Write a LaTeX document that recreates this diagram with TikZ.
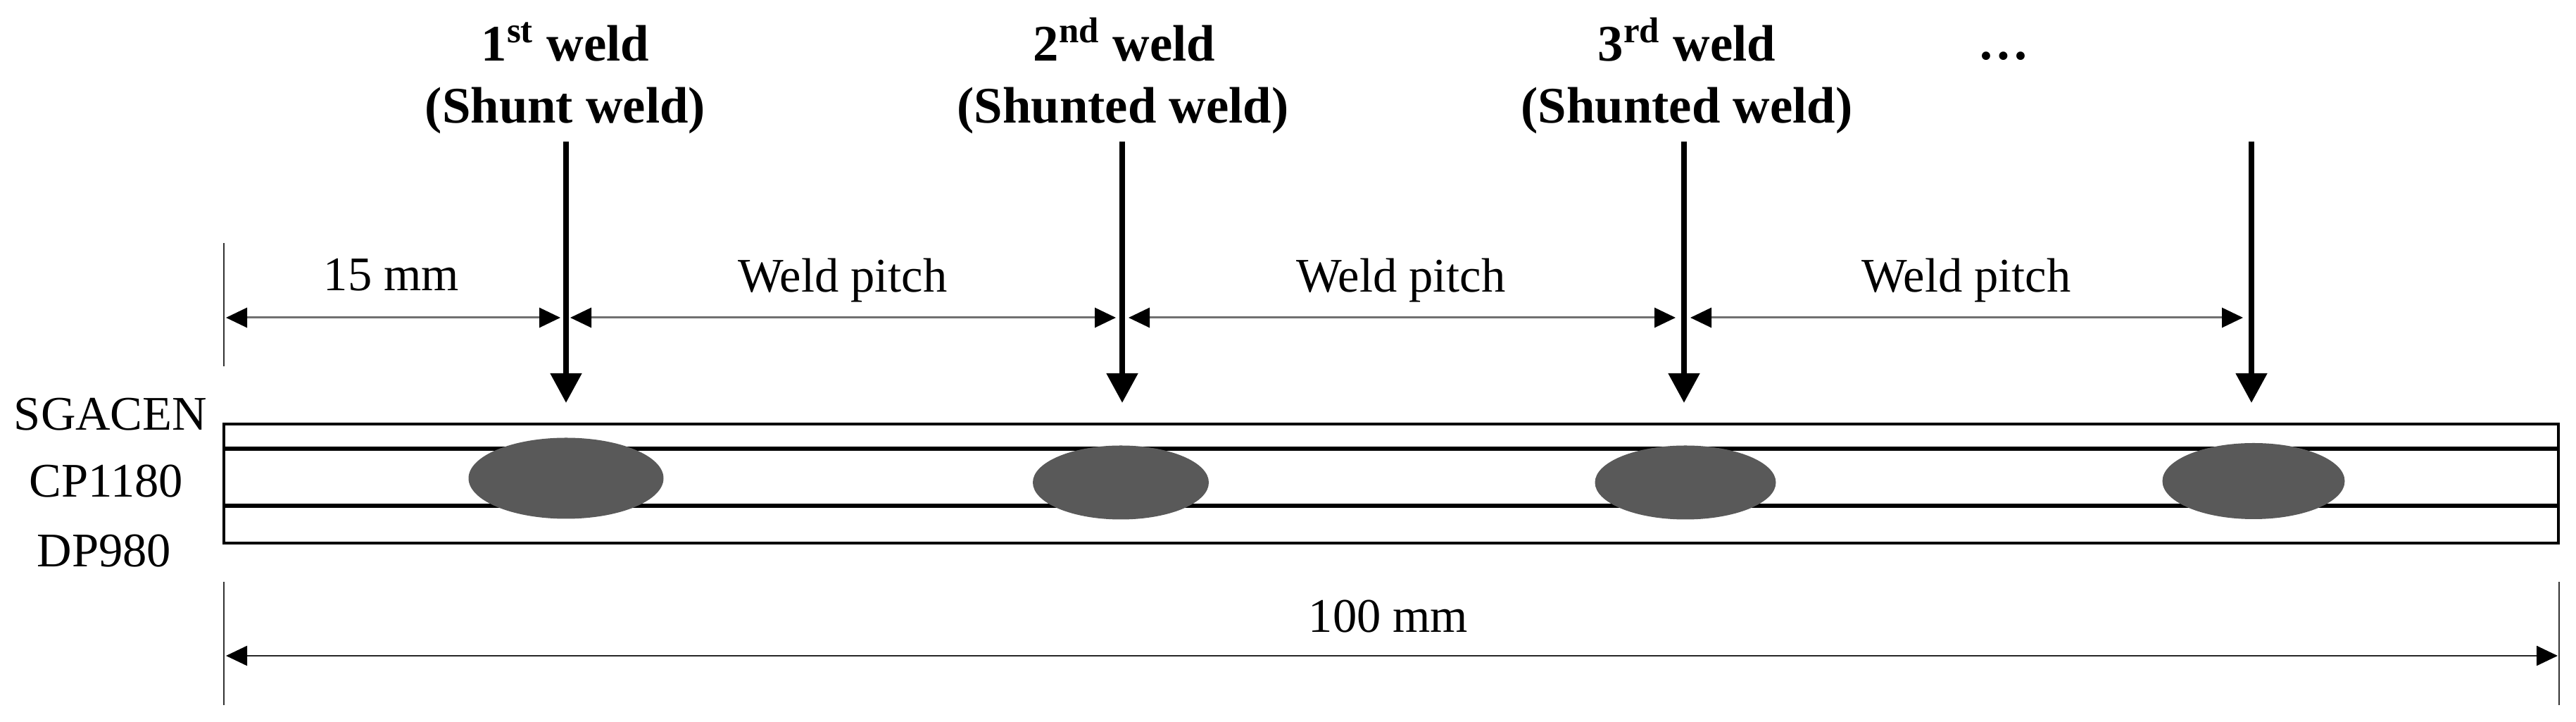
\documentclass[tikz,border=0pt]{standalone}
\usepackage{fontspec}
\setmainfont{Liberation Serif}
\usetikzlibrary{arrows.meta, shapes.geometric}

\begin{document}
\begin{tikzpicture}[
		weld/.style={ellipse, fill=weldgray, inner sep=0pt},
		lbl/.style={anchor=base, inner sep=0pt, font=\fontsize{19.5pt}{22pt}\selectfont},
		head/.style={anchor=base, inner sep=0pt, font=\fontsize{20.7pt}{24pt}\selectfont\bfseries},
		gun/.style={line width=2.3pt, -{Triangle[length=0.42cm, width=0.43cm]}},
		dimn/.style={line width=0.85pt, draw=dimgray, {Triangle[length=0.3cm, width=0.28cm, color=black]}-{Triangle[length=0.3cm, width=0.28cm, color=black]}},
		tick/.style={line width=0.7pt, draw=black!80}
	]
  \definecolor{weldgray}{HTML}{595959}
  \definecolor{dimgray}{HTML}{707070}
  \useasboundingbox (0cm, 0cm) rectangle (36.59cm, 10.25cm);

  % sheets
  \coordinate (sheet_sw) at (3.18cm, 2.54cm);
  \coordinate (sheet_ne) at (36.34cm, 4.23cm);
  \coordinate (upper_l) at (3.18cm, 3.88cm);
  \coordinate (upper_r) at (36.34cm, 3.88cm);
  \coordinate (lower_l) at (3.18cm, 3.07cm);
  \coordinate (lower_r) at (36.34cm, 3.07cm);
  \draw [line width=1.25pt] (sheet_sw) rectangle (sheet_ne);
  \draw [line width=1.7pt] (upper_l) -- (upper_r);
  \draw [line width=1.7pt] (lower_l) -- (lower_r);

  % nuggets
  \node (w_1) [weld, minimum width=2.77cm, minimum height=1.15cm] at (8.04cm, 3.46cm) {};
  \node (w_2) [weld, minimum width=2.50cm, minimum height=1.05cm] at (15.92cm, 3.40cm) {};
  \node (w_3) [weld, minimum width=2.57cm, minimum height=1.05cm] at (23.94cm, 3.40cm) {};
  \node (w_4) [weld, minimum width=2.59cm, minimum height=1.08cm] at (32.01cm, 3.42cm) {};

  % weld positions
  \coordinate (g_1) at (8.04cm, 8.24cm);
  \coordinate (t_1) at (8.04cm, 4.53cm);
  \coordinate (g_2) at (15.94cm, 8.24cm);
  \coordinate (t_2) at (15.94cm, 4.53cm);
  \coordinate (g_3) at (23.92cm, 8.24cm);
  \coordinate (t_3) at (23.92cm, 4.53cm);
  \coordinate (g_4) at (31.98cm, 8.24cm);
  \coordinate (t_4) at (31.98cm, 4.53cm);
  \draw [gun] (g_1) -- (t_1);
  \draw [gun] (g_2) -- (t_2);
  \draw [gun] (g_3) -- (t_3);
  \draw [gun] (g_4) -- (t_4);

  % extension lines
  \coordinate (e_a) at (3.18cm, 6.80cm);
  \coordinate (e_b) at (3.18cm, 5.05cm);
  \coordinate (e_c) at (3.18cm, 1.99cm);
  \coordinate (e_d) at (3.18cm, 0.24cm);
  \coordinate (e_e) at (36.35cm, 1.99cm);
  \coordinate (e_f) at (36.35cm, 0.24cm);
  \draw [tick] (e_a) -- (e_b);
  \draw [tick] (e_c) -- (e_d);
  \draw [tick] (e_e) -- (e_f);

  % dimensions
  \coordinate (d_0) at (3.21cm, 5.74cm);
  \coordinate (d_1a) at (7.96cm, 5.74cm);
  \coordinate (d_1b) at (8.10cm, 5.74cm);
  \coordinate (d_2a) at (15.85cm, 5.74cm);
  \coordinate (d_2b) at (16.03cm, 5.74cm);
  \coordinate (d_3a) at (23.80cm, 5.74cm);
  \coordinate (d_3b) at (24.01cm, 5.74cm);
  \coordinate (d_4) at (31.86cm, 5.74cm);
  \coordinate (d_l) at (3.21cm, 0.94cm);
  \coordinate (d_r) at (36.33cm, 0.94cm);
  \draw [dimn] (d_0) -- (d_1a);
  \draw [dimn] (d_1b) -- (d_2a);
  \draw [dimn] (d_2b) -- (d_3a);
  \draw [dimn] (d_3b) -- (d_4);
  \draw [dimn, draw=black!85, line width=0.7pt] (d_l) -- (d_r);

  % labels
  \node (n_1a) [head] at (8.03cm, 9.38cm) {1\textsuperscript{st} weld};
  \node (n_1b) [head] at (8.03cm, 8.50cm) {(Shunt weld)};
  \node (n_2a) [head] at (15.97cm, 9.38cm) {2\textsuperscript{nd} weld};
  \node (n_2b) [head] at (15.95cm, 8.50cm) {(Shunted weld)};
  \node (n_3a) [head] at (23.96cm, 9.38cm) {3\textsuperscript{rd} weld};
  \node (n_3b) [head] at (23.96cm, 8.50cm) {(Shunted weld)};
  \node (n_more) [head] at (28.46cm, 9.40cm) {…};
  \node (l_15) [lbl] at (5.56cm, 6.12cm) {15 mm};
  \node (l_p1) [lbl] at (11.97cm, 6.10cm) {Weld pitch};
  \node (l_p2) [lbl] at (19.90cm, 6.10cm) {Weld pitch};
  \node (l_p3) [lbl] at (27.93cm, 6.10cm) {Weld pitch};
  \node (l_100) [lbl] at (19.72cm, 1.27cm) {100 mm};
  \node (l_top) [lbl] at (1.57cm, 4.14cm) {SGACEN};
  \node (l_mid) [lbl] at (1.51cm, 3.19cm) {CP1180};
  \node (l_bot) [lbl] at (1.48cm, 2.20cm) {DP980};
\end{tikzpicture}
\end{document}
